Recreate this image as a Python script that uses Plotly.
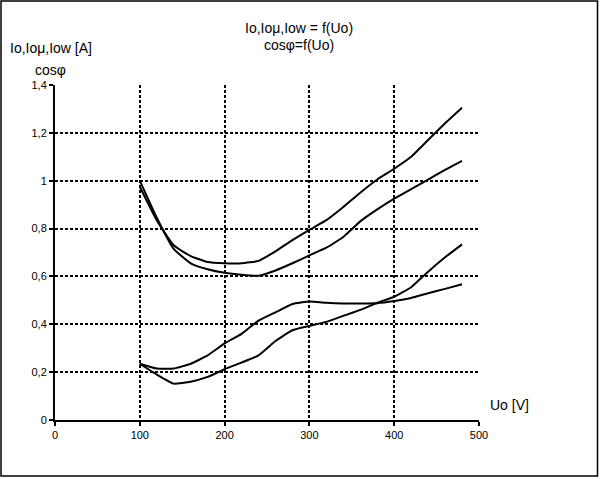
"""
Io, Ioμ, Iow and cosφ as a function of Uo
"""

import plotly.graph_objects as go

# supply voltage Uo [V]
uo = [100, 120, 140, 160, 180, 200, 220, 240, 260, 280,
      300, 320, 340, 360, 380, 400, 420, 440, 460, 480]

io = [0.975, 0.835, 0.73, 0.685, 0.66, 0.655, 0.655, 0.665, 0.705, 0.752,
      0.795, 0.835, 0.89, 0.95, 1.005, 1.05, 1.10, 1.17, 1.24, 1.305]
io_mu = [1.0, 0.845, 0.715, 0.655, 0.63, 0.615, 0.607, 0.603, 0.625, 0.655,
         0.688, 0.72, 0.765, 0.83, 0.88, 0.925, 0.965, 1.005, 1.045, 1.083]
cos_phi = [0.235, 0.215, 0.215, 0.235, 0.27, 0.32, 0.36, 0.415, 0.45, 0.485,
           0.495, 0.49, 0.487, 0.487, 0.488, 0.497, 0.51, 0.53, 0.548, 0.567]
io_w = [0.235, 0.19, 0.152, 0.16, 0.18, 0.212, 0.24, 0.27, 0.33, 0.375,
        0.393, 0.41, 0.435, 0.46, 0.49, 0.515, 0.555, 0.62, 0.68, 0.734]

x_ticks = [0, 100, 200, 300, 400, 500]
y_ticks = [0, 0.2, 0.4, 0.6, 0.8, 1.0, 1.2, 1.4]

W, H = 601, 479
L, R, T, B = 55, 479, 85, 420
FONT = "Liberation Sans, Arial, sans-serif"


def px(x):
    return (x - L) / (R - L)


def py(y):
    return (B - y) / (B - T)


fig = go.Figure()
for series in (io, io_mu, cos_phi, io_w):
    fig.add_trace(go.Scatter(
        x=uo, y=series, mode="lines",
        line=dict(color="black", width=2, shape="spline", smoothing=0.4),
        showlegend=False, hoverinfo="skip"
    ))

axis_common = dict(
    showgrid=True, gridcolor="black", gridwidth=1.5, griddash="3px,2px",
    showline=True, linecolor="black", linewidth=2,
    ticks="outside", ticklen=4, tickcolor="black", tickwidth=1.5,
    zeroline=False, tickfont=dict(family=FONT, size=11, color="black"),
    fixedrange=True
)

fig.update_xaxes(range=[0, 500], tickvals=x_ticks, **axis_common)
fig.update_yaxes(range=[0, 1.4], tickvals=y_ticks, **axis_common)

fig.update_layout(
    width=W, height=H,
    margin=dict(l=L, r=W - R, t=T, b=H - B),
    paper_bgcolor="white", plot_bgcolor="white",
    separators=",.",
    font=dict(family=FONT, size=14, color="black"),
)

# outer frame
fig.add_shape(type="rect", xref="paper", yref="paper",
              x0=px(1), x1=px(597.5), y0=py(476), y1=py(1),
              line=dict(color="black", width=1.5), layer="below")

texts = [
    ("Io,Ioμ,Iow = f(Uo)", 298.5, 28, "center"),
    ("cosφ=f(Uo)", 299, 45, "center"),
    ("Io,Ioμ,Iow [A]", 8, 48, "left"),
    ("cosφ", 33, 70, "left"),
    ("Uo [V]", 488, 405, "left"),
]
for txt, x, y, anchor in texts:
    fig.add_annotation(text=txt, xref="paper", yref="paper",
                       x=px(x), y=py(y), xanchor=anchor, yanchor="middle",
                       showarrow=False, font=dict(family=FONT, size=14))

# drop the default page margin so the figure sits at the window corner
fig.write_html("out.html",
               config={"displayModeBar": False},
               post_script="document.body.style.margin='0';")
